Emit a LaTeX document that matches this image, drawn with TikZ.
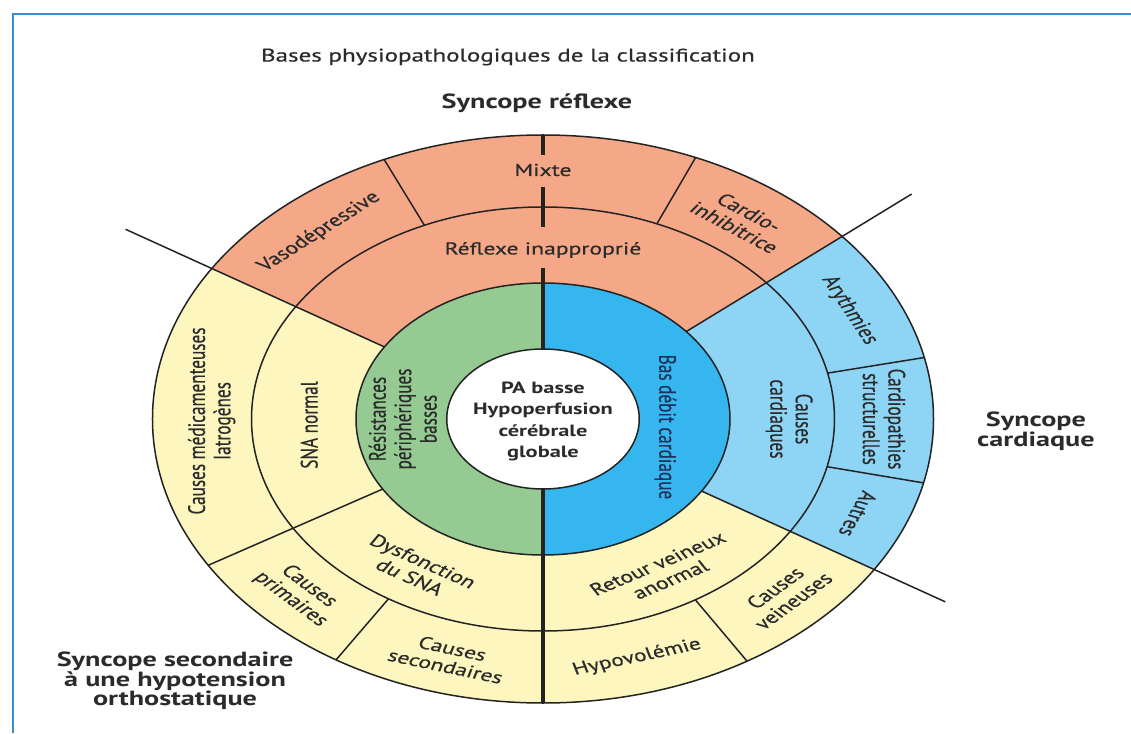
\documentclass[tikz,border=0pt]{standalone}
\usepackage{fontspec}
\setmainfont{PT Sans}
\newfontfamily\medfont{PT Sans}[FakeBold=0.5]
\definecolor{salmon}{RGB}{245,168,135}
\definecolor{yel}{RGB}{254,246,191}
\definecolor{lblue}{RGB}{142,212,245}
\definecolor{dblue}{RGB}{54,182,238}
\definecolor{grn}{RGB}{149,202,146}
\definecolor{txt}{RGB}{43,43,43}
\definecolor{navy}{RGB}{30,50,90}
\definecolor{frameblue}{RGB}{60,140,210}
\definecolor{edge}{RGB}{35,35,35}
\newcommand\ringsec[5]{\fill[#1] (#2:#4pt) arc[start angle=#2,end angle=#3,radius=#4pt] -- (#3:#5pt) arc[start angle=#3,end angle=#2,radius=#5pt] -- cycle;}
\tikzset{
  lbl/.style={font=\medfont\fontsize{17.2}{18.5}\selectfont, text=txt, align=center, inner sep=0pt},
  ctr/.style={font=\bfseries\fontsize{16.3}{21.5}\selectfont, text=txt, align=center, inner sep=0pt},
  head/.style={font=\bfseries\fontsize{20.5}{20.5}\selectfont, text=txt, align=center, inner sep=0pt},
  ttl/.style={font=\medfont\fontsize{18.2}{19}\selectfont, text=txt, align=center, inner sep=0pt},
  thin line/.style={draw=edge, line width=1.5pt},
  thick line/.style={draw=edge, line width=3.6pt}
}
\begin{document}
\begin{tikzpicture}[x=1pt,y=1pt]
\useasboundingbox (-543,-314) rectangle (588,419);
\fill[white] (-543,-314) rectangle (588,419);
\draw[frameblue, line width=2.5pt] (-530,-314) -- (-530,405) -- (588,405);
\begin{scope}[xscale=1.375, transform shape]
  % fills
  \ringsec{salmon}{40}{148}{136}{284}
  \ringsec{lblue}{-32}{40}{136}{284}
  \ringsec{yel}{148}{328}{136}{284}
  \fill[grn] (90:136pt) arc[start angle=90,end angle=270,radius=136pt] -- cycle;
  \fill[dblue] (-90:136pt) arc[start angle=-90,end angle=90,radius=136pt] -- cycle;
  \fill[white] (0,0) circle[radius=70pt];
  % circles
  \draw[thin line] (0,0) circle[radius=70pt];
  \draw[thin line] (0,0) circle[radius=136pt];
  \draw[thin line] (0,0) circle[radius=212pt];
  \draw[thin line] (0,0) circle[radius=284pt];
  % main radial dividers
  \draw[thin line] (148:136pt) -- (148:358pt);
  \draw[thin line] (40:136pt) -- (40:350pt);
  \draw[thin line] (-32:136pt) -- (-32:345pt);
  \draw[thin line] (211:136pt) -- (211:284pt);
  % outer ring dividers
  \foreach \a in {114,67,12.5,-13,238,301.5}
    \draw[thin line] (\a:212pt) -- (\a:284pt);
  % thick vertical line
  \draw[thick line] (0,284pt) -- (0,264pt);
  \draw[thick line] (0,232pt) -- (0,192pt);
  \draw[thick line] (0,151pt) -- (0,70pt);
  \draw[thick line] (0,-70pt) -- (0,-284pt);
  % headings
  \node[ttl] (title) at (-25.5,362) {Bases physiopathologiques de la classification};
  \node[head] (reflexe) at (-4.4,316) {Syncope réflexe};
  \node[head] (cardiaque) at (358.5,-12) {Syncope\\cardiaque};
  \node[head] (secondaire) at (-267.6,-262) {Syncope secondaire\\[-1pt]à une hypotension\\[-1pt]orthostatique};
  % outer ring labels
  \node[lbl] (mixte) at (90:249pt) {Mixte};
  \node[lbl, rotate=41] (vaso) at (131:248pt) {Vasodépressive};
  \node[lbl, rotate=-36] (cardioinh) at (54:246pt) {Cardio-\\inhibitrice};
  \node[lbl, rotate=-64] (aryth) at (26:248pt) {Arythmies};
  \node[lbl, rotate=-90] (struct) at (0:248pt) {Cardiopathies\\structurelles};
  \node[lbl, rotate=-112.5] (autres) at (-22.5:248pt) {Autres};
  \node[lbl, rotate=45] (veineuses) at (-45:248pt) {Causes\\veineuses};
  \node[lbl, rotate=16] (hypovol) at (-74:248pt) {Hypovolémie};
  \node[lbl, rotate=-16] (secondaires) at (-106:248pt) {Causes\\secondaires};
  \node[lbl, rotate=-45.5] (primaires) at (224.5:248pt) {Causes\\primaires};
  \node[lbl, rotate=90] (medic) at (-241,-2) {Causes médicamenteuses\\Iatrogènes};
  % middle ring labels
  \node[lbl] (inapp) at (0,169) {Réflexe inapproprié};
  \node[lbl, rotate=90] (snanormal) at (-170,-6) {SNA normal};
  \node[lbl, rotate=-31.5] (dysf) at (238.5:176pt) {Dysfonction\\du SNA};
  \node[lbl, rotate=30] (retour) at (-60:176pt) {Retour veineux\\anormal};
  \node[lbl, rotate=-90] (causescard) at (179,0) {Causes\\cardiaques};
  % inner ring labels
  \node[lbl, rotate=90] (resist) at (-102,0) {Résistances\\périphériques\\basses};
  \node[lbl, rotate=-90, text=navy] (basdebit) at (89,-8) {Bas débit cardiaque};
  % centre
  \node[ctr] (centre) at (0,-2.5) {PA basse\\Hypoperfusion\\cérébrale\\globale};
\end{scope}
\end{tikzpicture}
\end{document}
